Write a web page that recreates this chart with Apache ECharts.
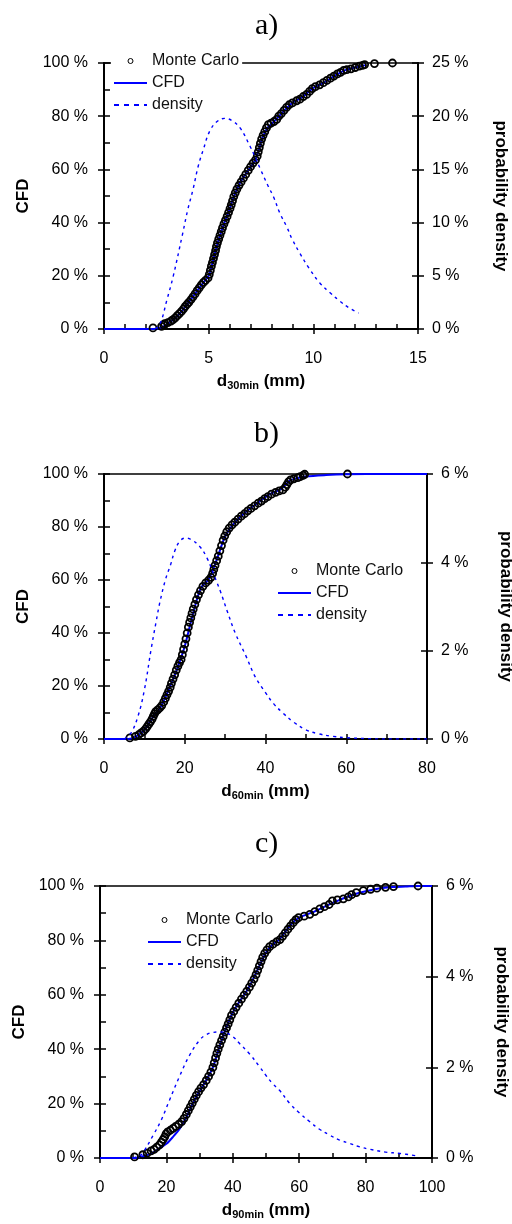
<!DOCTYPE html>
<html><head><meta charset="utf-8">
<script src="https://cdn.jsdelivr.net/npm/echarts@6/dist/echarts.min.js"></script>
<style>html,body{margin:0;padding:0;background:#fff}#c{width:512px;height:1224px}</style>
</head><body><div id="c"></div>
<script>
// ---------- labels / axis ranges ----------
const panelTitles = ['a)', 'b)', 'c)'];
const xNameSub = ['30min', '60min', '90min'];
const xMax = [15, 80, 100];
const xStep = [5, 20, 20];
const xMinorSplit = [5, 2, 2];
const rightMax = [25, 6, 6];
const rightStep = [5, 2, 2];

// ---------- panel a (d30min) ----------
const mcA = [[2.34,0.4],[2.75,1.0],[2.85,1.6],[2.9,2.0],[3.05,2.4],[3.2,3.0],[3.3,3.5],[3.4,4.2],[3.5,5.0],[3.6,5.8],[3.7,6.6],[3.8,7.6],[3.88,8.5],[3.97,9.3],[4.05,10.0],[4.15,11.0],[4.25,12.1],[4.35,13.2],[4.45,14.4],[4.55,15.5],[4.65,16.6],[4.75,17.5],[4.85,18.3],[4.97,19.2],[5.03,20.5],[5.08,22.0],[5.13,23.6],[5.18,25.0],[5.23,26.5],[5.28,28.0],[5.33,29.5],[5.37,31.0],[5.42,32.4],[5.48,33.8],[5.54,35.2],[5.6,36.6],[5.66,38.0],[5.73,39.5],[5.8,40.8],[5.88,42.3],[5.95,43.8],[6.02,45.3],[6.08,46.7],[6.14,48.2],[6.2,49.8],[6.27,51.2],[6.35,52.6],[6.45,54.0],[6.55,55.3],[6.66,56.7],[6.77,58.1],[6.89,59.6],[7.0,61.0],[7.12,62.4],[7.24,63.6],[7.32,65.0],[7.37,66.6],[7.42,68.2],[7.47,69.8],[7.53,71.4],[7.6,72.8],[7.68,74.2],[7.76,75.6],[7.85,76.8],[7.98,77.4],[8.12,78.0],[8.25,78.8],[8.35,80.0],[8.47,81.0],[8.6,82.2],[8.72,83.3],[8.85,84.3],[9.0,85.0],[9.2,85.8],[9.36,86.4],[9.52,87.4],[9.68,88.2],[9.82,89.3],[9.95,90.4],[10.1,91.1],[10.3,91.8],[10.48,92.6],[10.65,93.5],[10.82,94.3],[10.98,95.1],[11.15,95.9],[11.3,96.5],[11.45,97.2],[11.6,97.5],[11.8,97.8],[12.0,98.3],[12.2,98.8],[12.35,99.1],[12.45,99.4],[12.92,99.8],[13.78,100]];
const cfdA = [[0,0],[2.4,0],[2.8,0.8],[3.2,2.8],[3.6,5.6],[4.0,9.6],[4.4,13.8],[4.8,18.0],[5.0,20.0],[5.2,25.5],[5.4,31.5],[5.6,36.5],[5.8,41.0],[6.0,45.0],[6.2,49.8],[6.5,55.0],[6.9,59.8],[7.2,63.2],[7.4,67.5],[7.55,71.5],[7.8,75.5],[8.1,77.8],[8.5,81.2],[9.0,85.0],[9.5,87.3],[10.0,90.6],[10.5,92.6],[11.0,95.1],[11.5,97.2],[12.0,98.3],[12.5,99.2]];
const denA = [[2.45,0],[2.7,0.6],[3.0,2.7],[3.3,4.9],[3.75,8.9],[4.0,11.2],[4.25,13.1],[4.5,15.3],[4.75,16.9],[5.05,18.6],[5.4,19.5],[5.77,19.8],[6.1,19.6],[6.5,18.9],[6.97,17.2],[7.21,16.2],[7.5,14.9],[7.85,13.4],[8.1,12.4],[8.4,10.9],[8.73,9.6],[9.0,8.4],[9.36,7.1],[9.8,5.7],[10.32,4.3],[10.8,3.4],[11.28,2.6],[11.7,2.0],[12.16,1.5]];

// ---------- panel b (d60min) ----------
const mcB = [[6.4,0.4],[7.8,1.0],[8.6,1.6],[9.2,2.3],[9.8,3.0],[10.3,3.8],[10.7,4.7],[11.1,5.6],[11.5,6.5],[11.9,7.5],[12.2,8.5],[12.5,9.5],[12.8,10.3],[13.3,11.0],[13.8,11.7],[14.3,12.6],[14.8,14.0],[15.2,15.3],[15.6,16.7],[16.0,18.0],[16.4,19.5],[16.7,21.0],[17.1,22.6],[17.5,24.2],[17.9,26.0],[18.3,27.5],[18.7,28.8],[19.1,30.0],[19.4,31.8],[19.7,33.8],[20.0,35.8],[20.3,37.8],[20.6,40.0],[20.9,42.2],[21.2,44.0],[21.5,45.7],[21.8,47.4],[22.1,49.0],[22.5,50.8],[22.9,52.6],[23.4,54.4],[23.9,56.0],[24.5,57.6],[25.2,58.9],[25.9,59.9],[26.5,61.0],[26.9,62.5],[27.2,64.0],[27.5,65.5],[27.9,67.3],[28.3,69.0],[28.7,71.0],[29.1,73.0],[29.5,75.0],[29.9,76.6],[30.4,78.2],[31.0,79.6],[31.7,80.8],[32.4,81.8],[33.2,83.0],[34.0,84.1],[34.8,85.0],[35.6,86.1],[36.4,87.0],[37.3,88.0],[38.2,89.0],[39.0,89.8],[39.8,90.7],[40.6,91.5],[41.5,92.4],[42.5,93.1],[43.4,93.6],[44.3,94.0],[44.9,95.0],[45.3,96.0],[45.7,97.0],[46.2,97.8],[47.0,98.2],[48.0,98.6],[48.6,99.0],[49.3,99.5],[49.7,99.9],[60.3,100]];
const cfdB = [[0,0],[6,0],[8,1.0],[10,3.5],[12,8.0],[14,12.0],[16,18.5],[18,26.0],[20,35.0],[22,47.0],[24,57.0],[26,60.5],[28,68.0],[30,76.5],[32,81.0],[35,85.5],[38,89.0],[41,92.3],[44,94.5],[46,97.5],[48,98.5],[50,99.1],[55,99.6],[60,99.9],[65,100],[80,100]];
const denB = [[5,0],[6.7,0.14],[8.4,0.51],[10,1.11],[11.7,2.05],[12.9,2.65],[13.8,3.08],[15.2,3.6],[16.5,3.95],[17.5,4.25],[18.7,4.47],[20.1,4.55],[21.5,4.52],[23.7,4.36],[25.5,4.1],[27.2,3.72],[28.8,3.35],[30.5,2.9],[32.5,2.4],[35.2,1.87],[37.5,1.4],[40,1.05],[42,0.8],[44.3,0.59],[47,0.38],[50,0.21],[53,0.12],[56.7,0.06],[60,0.03],[65,0.01],[70,0],[80,0]];

// ---------- panel c (d90min) ----------
const mcC = [[10.4,0.4],[12.9,1.2],[14.2,1.8],[15.4,2.6],[16.3,3.2],[17.1,4.0],[17.9,4.8],[18.5,5.8],[19.0,6.8],[19.5,7.8],[19.9,8.9],[20.4,9.6],[21.2,10.2],[22.0,10.9],[22.8,11.6],[23.7,12.4],[24.6,13.4],[25.3,14.6],[26.0,16.0],[26.6,17.4],[27.2,18.8],[27.8,20.2],[28.4,21.6],[29.0,23.0],[29.7,24.4],[30.4,25.7],[31.2,27.0],[32.0,28.5],[32.7,30.0],[33.4,31.6],[34.0,33.3],[34.4,35.0],[34.8,36.8],[35.2,38.5],[35.6,40.0],[36.1,41.6],[36.6,43.2],[37.1,44.7],[37.6,46.3],[38.1,47.8],[38.6,49.3],[39.1,50.8],[39.6,52.4],[40.3,53.9],[41.0,55.4],[41.8,56.9],[42.6,58.4],[43.4,59.9],[44.2,61.3],[45.0,62.8],[45.7,64.3],[46.4,65.8],[47.0,67.4],[47.5,69.0],[48.0,70.6],[48.5,72.2],[49.0,73.8],[49.6,75.2],[50.3,76.5],[51.1,77.7],[52.1,78.6],[53.2,79.5],[54.2,80.3],[55.0,81.5],[55.8,82.8],[56.6,84.1],[57.4,85.3],[58.2,86.5],[59.0,87.6],[59.8,88.4],[61.5,88.9],[63.2,89.6],[64.7,90.6],[66.2,91.6],[67.6,92.4],[69.0,93.2],[70.0,94.5],[71.5,94.9],[73.3,95.3],[74.8,96.0],[75.8,96.8],[77.2,97.6],[79.3,98.3],[81.5,98.8],[83.4,99.2],[86.0,99.5],[88.4,99.8],[95.8,100]];
const cfdC = [[0,0],[10,0],[12,0.3],[14,1.0],[16,2.0],[18,3.6],[20,5.2],[22,7.8],[24,10.8],[26,15.0],[28,20.2],[30,24.6],[32,28.6],[34,33.3],[36,41.0],[38,47.8],[40,53.5],[42,57.5],[44,61.0],[46,65.5],[48,70.6],[50,75.5],[52,78.5],[54,80.3],[56,83.5],[58,86.5],[60,88.4],[64,90.3],[68,92.6],[72,94.8],[76,96.7],[80,98.1],[84,99.1],[88,99.6],[92,99.8],[96,100],[100,100]];
const denC = [[10,0],[12,0.05],[13,0.12],[16,0.5],[18.4,0.83],[20.9,1.27],[23.9,1.79],[27,2.27],[30,2.6],[32,2.72],[34,2.77],[36,2.78],[38,2.76],[40,2.68],[42.1,2.52],[45,2.3],[48.1,2.01],[50,1.82],[52,1.64],[54,1.5],[57.2,1.2],[60,1.0],[63.2,0.8],[66,0.64],[69.3,0.5],[72,0.4],[75.3,0.32],[78,0.25],[81.4,0.19],[86,0.13],[90.4,0.1],[96,0.04]];

const mcData = [mcA, mcB, mcC];
const cfdData = [cfdA, cfdB, cfdC];
const denData = [denA, denB, denC];

// ---------- layout ----------
const gridBoxes = [
  {left:104, top:63, width:314, height:266},
  {left:104, top:474, width:323, height:265},
  {left:100, top:886, width:332, height:272}
];
const rightNameGap = [74, 70, 61];
const legendPos = [{left:111, top:50}, {left:275, top:560}, {left:145, top:909}];
const legendBg = ['#fff', 'transparent', 'transparent'];
const titlePos = [{left:250, top:6}, {left:249, top:414}, {left:250, top:824}];

const FONT = 'Liberation Sans, Arial, sans-serif';
const BLUE = '#0000ff';
const lineIcon = 'path://M0,0h33v2h-33z';
const dashIcon = 'path://M0,0h5v2h-5zM10,0h5v2h-5zM20,0h5v2h-5zM30,0h3v2h-3z';

const grid = [], xAxis = [], yAxis = [], series = [], legend = [], title = [];
for (let p = 0; p < 3; p++) {
  grid.push(Object.assign({show:true, borderColor:'#000', borderWidth:1.5, backgroundColor:'transparent',
    containLabel:false, outerBoundsMode:'none'}, gridBoxes[p]));
  const xi = xAxis.length, yi = yAxis.length;
  xAxis.push({
    type:'value', gridIndex:p, min:0, max:xMax[p], interval:xStep[p], position:'bottom',
    name:'{d|d}{s|' + xNameSub[p] + '}{d| (mm)}', nameLocation:'middle', nameGap:43,
    nameTextStyle:{rich:{d:{fontFamily:FONT, fontSize:17, fontWeight:'bold', color:'#000'},
                          s:{fontFamily:FONT, fontSize:11, fontWeight:'bold', color:'#000', padding:[8,0,0,0]}}},
    axisLine:{show:true, onZero:false, lineStyle:{color:'#000', width:2}},
    axisTick:{show:true, inside:true, length:5, lineStyle:{color:'#000', width:1.5}},
    minorTick:{show:true, splitNumber:xMinorSplit[p], length:5, lineStyle:{color:'#000', width:1.5}},
    axisLabel:{fontFamily:FONT, fontSize:16, color:'#000', margin:22},
    splitLine:{show:false}, minorSplitLine:{show:false}
  });
  xAxis.push({
    type:'value', gridIndex:p, min:0, max:xMax[p], interval:xStep[p], position:'bottom',
    axisLine:{show:false, onZero:false}, axisTick:{show:true, inside:false, length:5, lineStyle:{color:'#000', width:1.5}},
    axisLabel:{show:false}, splitLine:{show:false}
  });
  yAxis.push({
    type:'value', gridIndex:p, min:0, max:100, interval:20, position:'left',
    name:'CFD', nameLocation:'middle', nameGap:67,
    nameTextStyle:{fontFamily:FONT, fontSize:17, fontWeight:'bold', color:'#000'},
    axisLine:{show:true, onZero:false, lineStyle:{color:'#000', width:2}},
    axisTick:{show:true, inside:true, length:6, lineStyle:{color:'#000', width:1.5}},
    minorTick:{show:true, splitNumber:2, length:6, lineStyle:{color:'#000', width:1.5}},
    axisLabel:{fontFamily:FONT, fontSize:16, color:'#000', margin:16, formatter:'{value} %'},
    splitLine:{show:false}, minorSplitLine:{show:false}
  });
  yAxis.push({
    type:'value', gridIndex:p, min:0, max:100, interval:20, position:'left',
    axisLine:{show:false, onZero:false}, axisTick:{show:true, inside:false, length:6, lineStyle:{color:'#000', width:1.5}},
    axisLabel:{show:false}, splitLine:{show:false}
  });
  yAxis.push({
    type:'value', gridIndex:p, min:0, max:rightMax[p], interval:rightStep[p], position:'right',
    name:'probability density', nameLocation:'middle', nameGap:rightNameGap[p], nameRotate:-90,
    nameTextStyle:{fontFamily:FONT, fontSize:17, fontWeight:'bold', color:'#000'},
    axisLine:{show:true, onZero:false, lineStyle:{color:'#000', width:2}},
    axisTick:{show:true, inside:true, length:6, lineStyle:{color:'#000', width:1.5}},
    axisLabel:{fontFamily:FONT, fontSize:16, color:'#000', margin:14, formatter:'{value} %'},
    splitLine:{show:false}
  });
  yAxis.push({
    type:'value', gridIndex:p, min:0, max:rightMax[p], interval:rightStep[p], position:'right',
    axisLine:{show:false, onZero:false}, axisTick:{show:true, inside:false, length:6, lineStyle:{color:'#000', width:1.5}},
    axisLabel:{show:false}, splitLine:{show:false}
  });

  series.push({
    name:'CFD', type:'line', xAxisIndex:xi, yAxisIndex:yi, data:cfdData[p],
    symbol:'none', smooth:0.3, lineStyle:{color:BLUE, width:2}, itemStyle:{color:BLUE}, z:2, animation:false
  });
  series.push({
    name:'Monte Carlo', type:'scatter', xAxisIndex:xi, yAxisIndex:yi, data:mcData[p],
    symbol:'circle', symbolSize:7, itemStyle:{color:'rgba(0,0,0,0)', borderColor:'#000', borderWidth:1.8, opacity:1}, z:3, animation:false
  });
  series.push({
    name:'density', type:'line', xAxisIndex:xi, yAxisIndex:yi + 2, data:denData[p],
    symbol:'none', smooth:0.4, lineStyle:{color:BLUE, width:1.4, type:[3,4]}, itemStyle:{color:BLUE}, z:4, animation:false
  });

  legend.push(Object.assign({
    orient:'vertical', itemWidth:33, itemHeight:5, itemGap:6, padding:[3,3,3,3],
    backgroundColor:legendBg[p], selectedMode:false, z:10,
    textStyle:{fontFamily:FONT, fontSize:16, color:'#111'},
    data:[
      {name:'Monte Carlo', icon:'circle', itemStyle:{color:'rgba(0,0,0,0)', borderColor:'#000', borderWidth:1}},
      {name:'CFD', icon:lineIcon, itemStyle:{color:BLUE, borderWidth:0}},
      {name:'density', icon:dashIcon, itemStyle:{color:BLUE, borderWidth:0}}
    ]
  }, legendPos[p]));

  title.push(Object.assign({
    text:panelTitles[p],
    textStyle:{fontFamily:'Liberation Serif, Times New Roman, serif', fontSize:30, fontWeight:'normal', color:'#000'}
  }, titlePos[p]));
}

const chart = echarts.init(document.getElementById('c'), null, {renderer:'canvas'});
chart.setOption({
  backgroundColor:'#fff', animation:false,
  title, legend, grid, xAxis, yAxis, series, tooltip:{show:false}
});
</script>
</body></html>
